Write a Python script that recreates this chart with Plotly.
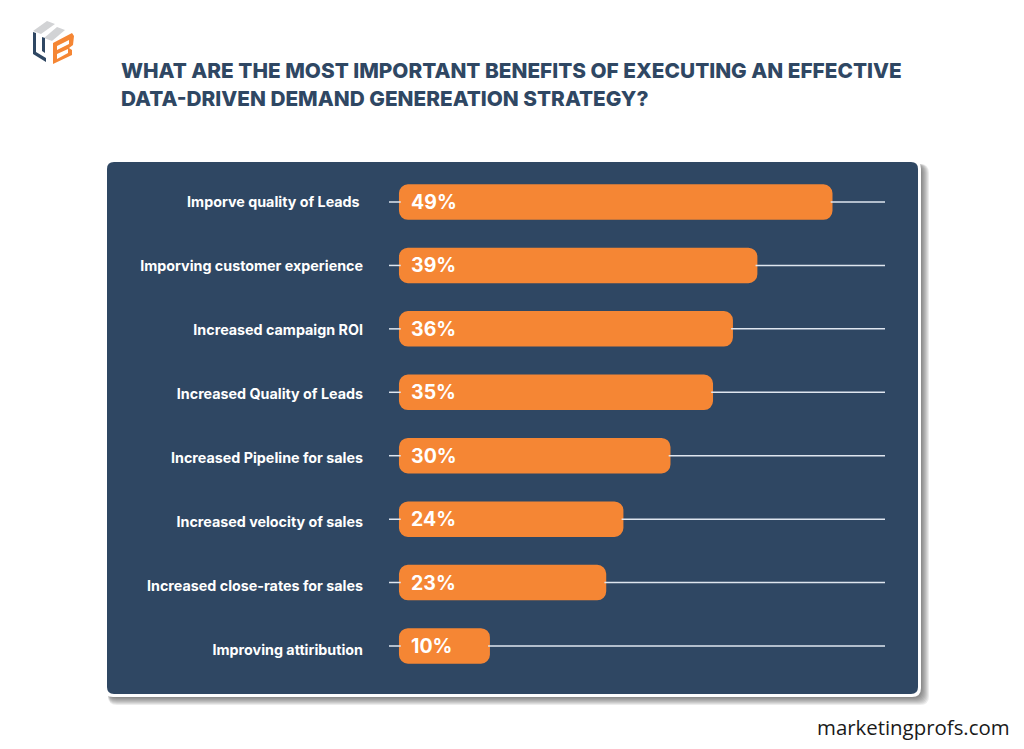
import plotly.graph_objects as go

W, H = 1024, 749
categories = ["Imporve quality of Leads ", "Imporving customer experience", "Increased campaign ROI",
              "Increased Quality of Leads", "Increased Pipeline for sales", "Increased velocity of sales",
              "Increased close-rates for sales", "Improving attiribution"]
value_labels = ["49%", "39%", "36%", "35%", "30%", "24%", "23%", "10%"]
# bar lengths as drawn in the picture (percent units); the artwork is not exactly to scale
drawn_lengths = [47.9, 39.6, 36.9, 34.7, 30.0, 24.8, 22.9, 10.05]
rail_start, rail_end = -1.1, 53.7
label_inset = 0.9

NAVY = "#2f4763"
ORANGE = "#f58634"

def px(x): return x / W
def py(y): return 1 - y / H

def rrect(x0, y0, x1, y1, r):
    return (f"M{px(x0+r)},{py(y0)} L{px(x1-r)},{py(y0)} Q{px(x1)},{py(y0)} {px(x1)},{py(y0+r)} "
            f"L{px(x1)},{py(y1-r)} Q{px(x1)},{py(y1)} {px(x1-r)},{py(y1)} "
            f"L{px(x0+r)},{py(y1)} Q{px(x0)},{py(y1)} {px(x0)},{py(y1-r)} "
            f"L{px(x0)},{py(y0+r)} Q{px(x0)},{py(y0)} {px(x0+r)},{py(y0)} Z")

def poly(points):
    return "M" + " L".join(f"{px(a)},{py(b)}" for a, b in points) + " Z"

def flat(path, col):
    return dict(type="path", xref="paper", yref="paper", layer="below", line_width=0, fillcolor=col, path=path)

shapes = []
# soft panel shadow
for i in range(8, 0, -1):
    shapes.append(flat(rrect(108, 164, 921 + i, 697 + i, 9), "rgba(40,40,40,0.09)"))
# white edge and navy panel
shapes.append(flat(rrect(104, 160, 921, 697, 9), "#ffffff"))
shapes.append(flat(rrect(107, 162, 918, 694, 7), NAVY))
# logo
shapes += [
    flat(poly([(33, 31), (47, 21), (55, 24), (41, 34)]), "#d2d3d5"),
    flat(poly([(44, 38), (57, 27), (65, 30), (52, 41)]), "#d2d3d5"),
    flat(poly([(33, 32), (36, 33), (36, 52), (46, 58), (46, 62), (33, 54)]), NAVY),
    flat(poly([(42, 37), (45, 38), (45, 53), (42, 51)]), NAVY),
    flat(poly([(53, 43), (72, 33), (74, 36), (73, 45), (69, 48), (72, 50), (72, 55), (53, 64)]), ORANGE),
    flat(poly([(57, 46), (69, 40), (69, 44), (57, 50)]), "#ffffff"),
    flat(poly([(57, 54), (68, 49), (68, 53), (57, 59)]), "#ffffff"),
]

fig = go.Figure()
# thin rails: a stub left of each bar and a tail right of it
for c, v in zip(categories, drawn_lengths):
    fig.add_trace(go.Scatter(x=[rail_start, 0.2, None, v - 0.2, rail_end], y=[c] * 5, mode="lines",
                             line=dict(color="#dfe6ef", width=1.5), hoverinfo="skip", showlegend=False))
# visible bars: an explicit base makes plotly round both ends
fig.add_trace(go.Bar(x=drawn_lengths, base=[0] * len(categories), y=categories,
                     orientation="h", marker=dict(color=ORANGE, line_width=0), width=0.56,
                     showlegend=False))
# transparent twin that carries the value labels with a left inset
fig.add_trace(go.Bar(x=[v - label_inset for v in drawn_lengths], base=[label_inset] * len(categories), y=categories,
                     orientation="h", marker=dict(color="rgba(0,0,0,0)", line_width=0), width=0.56,
                     text=value_labels, textposition="inside", insidetextanchor="start", textangle=0,
                     constraintext="none",
                     textfont=dict(family="Inter", size=19.5, color="#ffffff", weight=700),
                     hoverinfo="skip", showlegend=False))
# category labels sit on their own slightly wider-spaced axis, as in the artwork
fig.add_trace(go.Scatter(x=[rail_start] * len(categories), y=categories, yaxis="y2", mode="markers",
                         marker=dict(opacity=0, size=1), hoverinfo="skip", showlegend=False))

fig.update_layout(
    width=W, height=H, margin=dict(l=0, r=0, t=0, b=0, autoexpand=False),
    paper_bgcolor="#ffffff", plot_bgcolor="rgba(0,0,0,0)", barcornerradius=9, barmode="overlay",
    shapes=shapes,
    xaxis=dict(domain=[px(389), px(885)], range=[rail_start, rail_end], visible=False),
    yaxis=dict(domain=[py(677.7), py(170.3)], range=[7.5, -0.5], type="category",
               categoryorder="array", categoryarray=categories, showticklabels=False,
               showgrid=False, zeroline=False, showline=False, ticks=""),
    yaxis2=dict(domain=[py(682), py(170)], range=[7.5, -0.5], type="category", anchor="x",
                categoryorder="array", categoryarray=categories,
                showgrid=False, zeroline=False, showline=False, ticks="", ticklabelstandoff=25,
                tickfont=dict(family="Inter", size=14.3, color="#ffffff", weight=700)),
    annotations=[
        dict(xref="paper", yref="paper", x=px(119), y=py(70), xanchor="left", yanchor="middle", align="left",
             showarrow=False, text="WHAT ARE THE MOST IMPORTANT BENEFITS OF EXECUTING AN EFFECTIVE",
             font=dict(family="Inter", size=20.8, color=NAVY, weight=800)),
        dict(xref="paper", yref="paper", x=px(119), y=py(98), xanchor="left", yanchor="middle", align="left",
             showarrow=False, text="DATA-DRIVEN DEMAND GENEREATION STRATEGY?",
             font=dict(family="Inter", size=20.8, color=NAVY, weight=800)),
        dict(xref="paper", yref="paper", x=px(1012), y=py(727), xanchor="right", yanchor="middle", showarrow=False,
             text="marketingprofs.com", font=dict(family="Open Sans", size=20.4, color="#1a1a1a")),
    ],
)
fig.write_html("out.html", config=dict(displayModeBar=False), post_script="document.body.style.margin='0';")
